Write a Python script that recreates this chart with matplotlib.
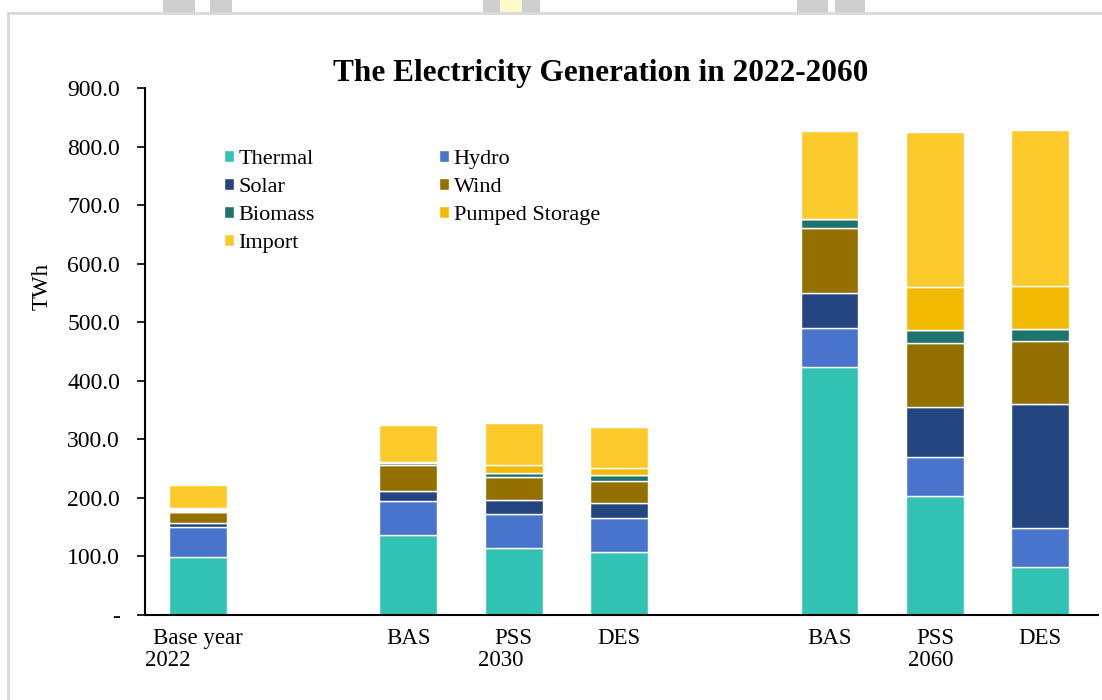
import numpy as np
import matplotlib.pyplot as plt
from matplotlib.lines import Line2D
from matplotlib.patches import Rectangle

# scenario columns: base year, 2030 (BAS/PSS/DES), 2060 (BAS/PSS/DES)
scenarios = ["Base year", "BAS", "PSS", "DES", "BAS", "PSS", "DES"]
positions = [0, 2, 3, 4, 6, 7, 8]
groups = ["2022", "2030", "2060"]

thermal = [99, 136.5, 115, 107.5, 424, 202.5, 82]
hydro = [52, 57.5, 57.5, 58, 66, 67, 66]
solar = [7, 18, 24.5, 25.5, 60.5, 86.5, 212]
wind = [18, 44, 38.5, 38, 110, 108, 108]
biomass = [0, 3, 7.5, 9.5, 16.5, 22.5, 21]
unlabelled = [7.5, 3, 0, 0, 0, 0, 0]
pumped = [0, 0, 12.5, 12, 0, 73.5, 73]
imports = [39, 62.5, 72, 71, 149.5, 266, 266]

series = [
    ("Thermal", thermal, "#31C2B4"),
    ("Hydro", hydro, "#4874CB"),
    ("Solar", solar, "#254580"),
    ("Wind", wind, "#937000"),
    ("Biomass", biomass, "#1E736C"),
    ("_other", unlabelled, "#FFFFFF"),
    ("Pumped Storage", pumped, "#F2BA02"),
    ("Import", imports, "#FDCA2C"),
]

plt.rcParams["font.family"] = ["Liberation Serif", "DejaVu Serif"]

fig = plt.figure(figsize=(11.02, 7.0), dpi=100)
ax = fig.add_axes([0.1316, 0.1214, 0.8648, 0.7526])

bottom = np.zeros(len(positions))
for name, vals, col in series:
    ax.bar(positions, vals, width=0.55, bottom=bottom, color=col,
           edgecolor="white", linewidth=1.0, label=name)
    bottom += np.array(vals)

ax.set_xlim(-0.5, 8.55)
ax.set_ylim(0, 900)
ax.set_yticks(np.arange(0, 901, 100))
ax.set_yticklabels(["-"] + ["%.1f" % v for v in np.arange(100, 901, 100)], fontsize=17)
ax.tick_params(axis="y", direction="out", length=6, width=1.2, pad=12)
ax.set_xticks([])
for s in ["top", "right"]:
    ax.spines[s].set_visible(False)
ax.spines["left"].set_linewidth(1.5)
ax.spines["bottom"].set_linewidth(1.5)
ax.set_ylabel("TWh", fontsize=16.5)
ax.yaxis.set_label_coords(-0.0965, 0.624)

# two-level category labels
trans = ax.get_xaxis_transform()
for p, s in zip(positions, scenarios):
    ax.text(p, -0.045, s, transform=trans, ha="center", va="center", fontsize=16.5)
ax.text(positions[0] - 0.28, -0.087, groups[0], transform=trans, ha="center", va="center", fontsize=16.5)
ax.text(positions[2] - 0.12, -0.087, groups[1], transform=trans, ha="center", va="center", fontsize=16.5)
ax.text(positions[5] - 0.04, -0.087, groups[2], transform=trans, ha="center", va="center", fontsize=16.5)

fig.text(0.545, 0.895, "The Electricity Generation in 2022-2060", ha="center", va="center",
         fontsize=22.5, fontweight="bold")

# legend filled row by row: Thermal/Hydro, Solar/Wind, Biomass/Pumped Storage, Import
handles, labels = ax.get_legend_handles_labels()
lookup = dict(zip(labels, handles))
order = ["Thermal", "Solar", "Biomass", "Import", "Hydro", "Wind", "Pumped Storage"]
ax.legend([lookup[l] for l in order], order, ncol=2, frameon=False, fontsize=16,
          loc="upper left", bbox_to_anchor=(0.062, 0.92), handlelength=0.45, handleheight=0.45,
          handletextpad=0.2, columnspacing=5.6, labelspacing=0.4)

# screenshot frame
fig.add_artist(Line2D([8 / 1102, 8 / 1102], [0, 1 - 13 / 700], color="#D9D9D9", lw=2))
fig.add_artist(Line2D([8 / 1102, 1], [1 - 13 / 700, 1 - 13 / 700], color="#D9D9D9", lw=2))
for x0, x1, c in [(163, 195, "#CFCFCF"), (210, 232, "#CFCFCF"), (483, 500, "#CFCFCF"),
                  (500, 522, "#FFFBCC"), (522, 540, "#CFCFCF"), (797, 828, "#CFCFCF"),
                  (835, 865, "#CFCFCF")]:
    fig.add_artist(Rectangle((x0 / 1102, 1 - 13 / 700), (x1 - x0) / 1102, 13 / 700,
                             transform=fig.transFigure, color=c, lw=0))

fig.savefig("out.png", dpi=100)
